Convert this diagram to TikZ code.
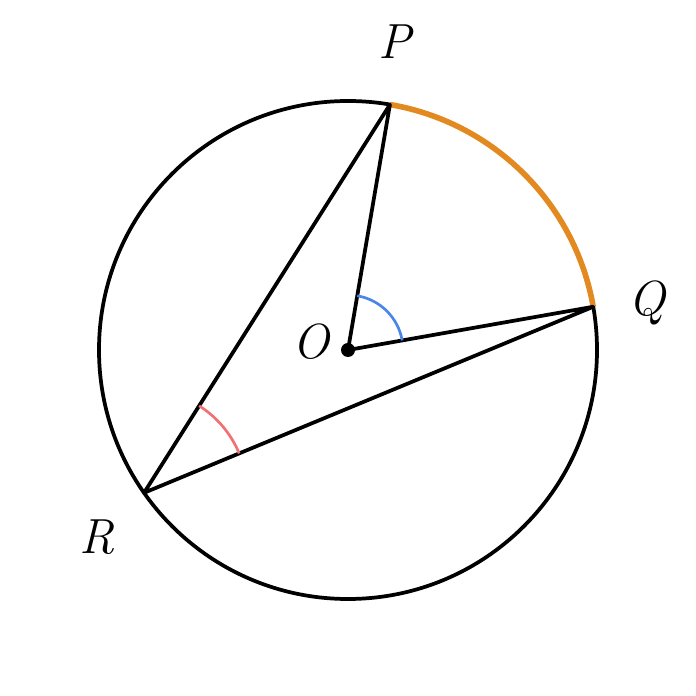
\documentclass[tikz,border=0pt]{standalone}
\usetikzlibrary{calc}

\definecolor{arcorange}{RGB}{226,137,32}
\definecolor{angblue}{RGB}{74,134,232}
\definecolor{angred}{RGB}{242,112,112}

\tikzset{every picture/.style={line width=2.8pt},
	chordline/.style={draw=black,line width=2.8pt,line join=round},
	arcline/.style={draw=arcorange,line width=4.2pt},
	angO/.style={draw=angblue,line width=2pt},
	angR/.style={draw=angred,line width=2pt},
	ptlabel/.style={font=\fontsize{37}{44}\selectfont\itshape}}

\begin{document}
\begin{tikzpicture}[x=0.75pt,y=0.75pt]
	\useasboundingbox (0,0) rectangle (696,696);

	% points on the circle
	\coordinate (O) at (348,346);
	\coordinate (P) at ($(O)+(80.3:249)$);
	\coordinate (Q) at ($(O)+(10:249)$);
	\coordinate (R) at ($(O)+(215:249)$);

	%Shape: Circle
	\draw[chordline] (O) circle[radius=249];
	%Shape: Arc P to Q
	\draw[arcline] (Q) arc[start angle=10,end angle=80.3,radius=249];

	%Straight Lines
	\draw[chordline] (R) -- (P) -- (O) -- (Q) -- cycle;

	%Shape: Arc at O
	\draw[angO] ($(O)+(10:55)$) arc[start angle=10,end angle=80.3,radius=55];
	%Shape: Arc at R
	\draw[angR] ($(R)+(22.5:103)$) arc[start angle=22.5,end angle=57.65,radius=103];

	%Shape: Circle (centre dot)
	\fill[black] (O) circle[radius=7];

	% Text Node
	\node[ptlabel] (lP) at (395,654) {P};
	\node[ptlabel] (lQ) at (647,393) {Q};
	\node[ptlabel] (lO) at (311,354) {O};
	\node[ptlabel] (lR) at (97,159) {R};

\end{tikzpicture}
\end{document}
